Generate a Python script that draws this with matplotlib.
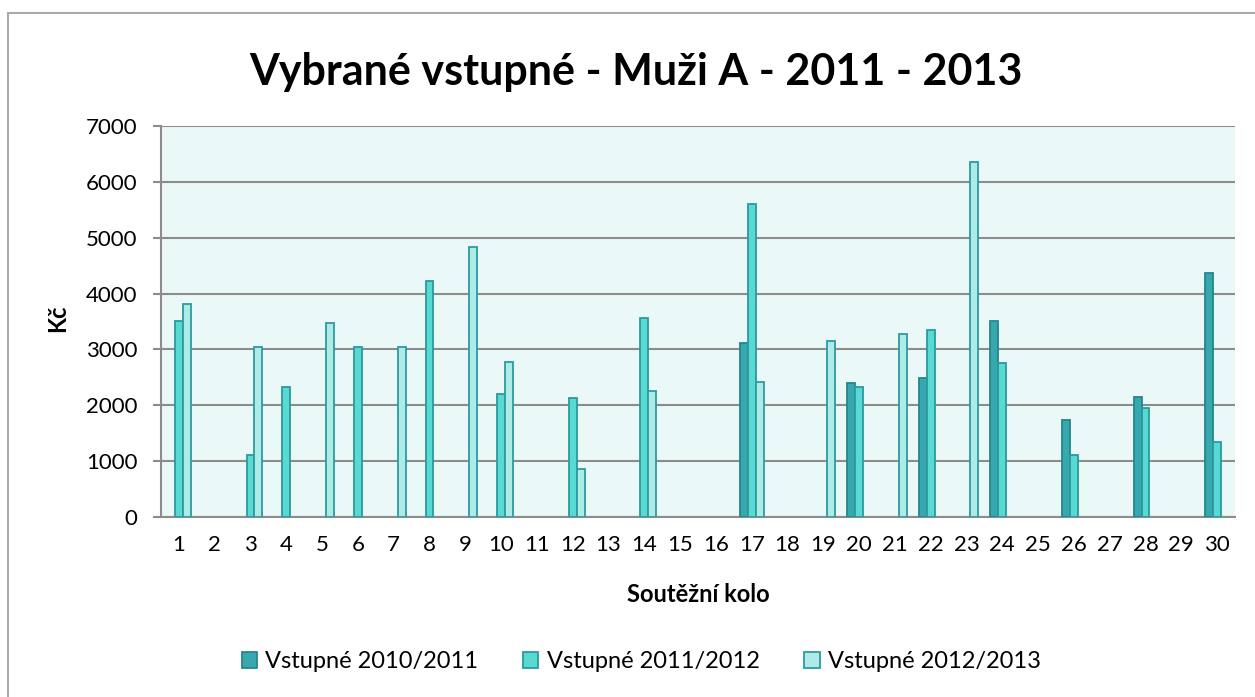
import numpy as np
import matplotlib.pyplot as plt
from matplotlib.lines import Line2D

plt.rcParams['font.family'] = ['Lato', 'DejaVu Sans']

# soutezni kola 1..30
rounds = list(range(1, 31))
# None = no match that season
s_2010 = [None] * 30
s_2011 = [None] * 30
s_2012 = [None] * 30

for k, v in {17: 3120, 20: 2400, 22: 2480, 24: 3500, 26: 1740, 28: 2150, 30: 4370}.items():
    s_2010[k - 1] = v
for k, v in {1: 3500, 3: 1110, 4: 2320, 6: 3040, 8: 4230, 10: 2200, 12: 2130, 14: 3560,
             17: 5600, 20: 2330, 22: 3350, 24: 2750, 26: 1110, 28: 1950, 30: 1340}.items():
    s_2011[k - 1] = v
for k, v in {1: 3820, 3: 3050, 5: 3470, 7: 3040, 9: 4830, 10: 2770, 12: 860, 14: 2250,
             17: 2410, 19: 3150, 21: 3280, 23: 6360}.items():
    s_2012[k - 1] = v

series_names = ['Vstupné 2010/2011', 'Vstupné 2011/2012', 'Vstupné 2012/2013']
fills = ['#37A8AF', '#58DAD2', '#AEEAE6']
edges = ['#23878D', '#2A9AA0', '#2C9CA1']

fig = plt.figure(figsize=(12.55, 6.97), dpi=100)
ax = fig.add_axes([161 / 1255, 1 - 517 / 697, 1074 / 1255, 391 / 697])
ax.set_facecolor('#EAF8F8')

w = 0.22
for i, data in enumerate([s_2010, s_2011, s_2012]):
    xs = [r + (i - 1) * w for r, v in zip(rounds, data) if v is not None]
    hs = [v for v in data if v is not None]
    ax.bar(xs, hs, width=w, color=fills[i], edgecolor=edges[i], linewidth=1.3,
           label=series_names[i], zorder=3)

ax.set_xlim(0.5, 30.5)
ax.set_ylim(0, 7000)
ax.set_yticks(range(0, 7001, 1000))
ax.set_xticks(rounds)
ax.yaxis.grid(True, color='#8C8C8C', linewidth=1.5, zorder=1)
ax.set_axisbelow(True)

for side in ['top', 'right']:
    ax.spines[side].set_visible(False)
for side in ['left', 'bottom']:
    ax.spines[side].set_color('#8C8C8C')
    ax.spines[side].set_linewidth(1.5)

ax.tick_params(axis='y', length=6, width=1.5, color='#8C8C8C', pad=11, labelsize=16)
ax.tick_params(axis='x', length=0, pad=13, labelsize=16)

ax.set_xlabel('Soutěžní kolo', fontsize=17, fontweight='bold')
ax.xaxis.set_label_coords(0.5, -0.169)
ax.set_ylabel('Kč', fontsize=17, fontweight='bold')
ax.yaxis.set_label_coords(-0.086, 0.509)

fig.text(0.507, 1 - 72 / 697, 'Vybrané vstupné - Muži A - 2011 - 2013',
         ha='center', va='center', fontsize=31, fontweight='bold')

fig.legend(loc='center', bbox_to_anchor=(0.511, 1 - 662 / 697), ncol=3, frameon=False,
           fontsize=17, handlelength=0.65, handleheight=0.65, handletextpad=0.35,
           columnspacing=1.9)

# outer chart border (cut off on the right and bottom)
fig.add_artist(Line2D([8 / 1255, 8 / 1255], [0, 1 - 13 / 697], color='#AAAAAA', linewidth=1.5))
fig.add_artist(Line2D([8 / 1255, 1], [1 - 13 / 697, 1 - 13 / 697], color='#AAAAAA', linewidth=1.5))

fig.savefig('out.png', dpi=100)
